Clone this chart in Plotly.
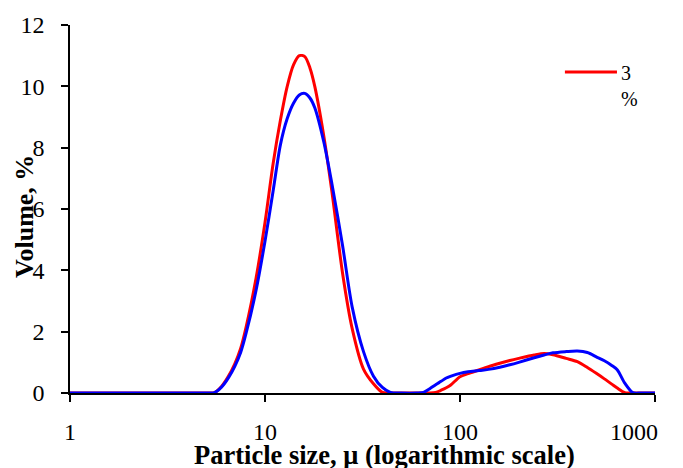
import plotly.graph_objects as go

# Particle size (micron) sample points
size_um = [1, 2, 3, 4, 5, 5.5, 6, 6.5, 7, 7.5, 8, 9, 10, 11, 12, 13, 14, 15, 16, 17, 18,
           20, 22, 25, 28, 32, 36, 40, 44, 50, 60, 65, 70, 75, 80, 85, 90, 100, 110, 125,
           140, 160, 180, 200, 240, 270, 300, 350, 400, 450, 500, 550, 600, 640, 700,
           770, 850, 1000]

# Volume % — red series ("3 %")
vol_red = [0, 0, 0, 0, 0, 0.01, 0.22, 0.55, 0.95, 1.45, 2.15, 3.75, 5.56, 7.47, 8.9, 10.0,
           10.7, 11.0, 10.97, 10.6, 10.0, 8.4, 6.6, 3.9, 2.1, 0.78, 0.3, 0.02, 0, 0, 0, 0,
           0, 0.02, 0.09, 0.17, 0.27, 0.53, 0.63, 0.75, 0.86, 0.97, 1.06, 1.13, 1.24, 1.29,
           1.25, 1.13, 1.02, 0.83, 0.64, 0.46, 0.29, 0.16, 0.01, 0, 0, 0]

# Volume % — blue series
vol_blue = [0, 0, 0, 0, 0, 0.01, 0.2, 0.5, 0.87, 1.32, 1.95, 3.35, 4.95, 6.58, 8.1, 8.95,
            9.45, 9.72, 9.77, 9.62, 9.3, 8.2, 6.85, 4.8, 2.8, 1.35, 0.55, 0.18, 0.02, 0, 0,
            0.02, 0.14, 0.27, 0.38, 0.49, 0.55, 0.64, 0.69, 0.73, 0.77, 0.84, 0.92, 1.0,
            1.15, 1.24, 1.31, 1.35, 1.37, 1.32, 1.18, 1.05, 0.9, 0.76, 0.32, 0.01, 0, 0]

x_ticks = [1, 10, 100, 1000]
NB = "\u00a0"
x_tick_text = ["1", "10", "100", "1000" + NB * 7]  # last label kept inside the page
y_ticks = [0, 2, 4, 6, 8, 10, 12]

red_name = "3<br>%"
x_title = "<b>Particle size, μ (logarithmic scale)</b>"
y_title = "<b>Volume, %</b>"

FONT = "Liberation Serif, Times New Roman, serif"

fig = go.Figure()
fig.add_trace(go.Scatter(x=size_um, y=vol_red, mode="lines", name="3 %",
                         line=dict(color="#FF0000", width=3, shape="spline", smoothing=0.8),
                         showlegend=False))
fig.add_trace(go.Scatter(x=size_um, y=vol_blue, mode="lines", name="",
                         line=dict(color="#0000FF", width=3, shape="spline", smoothing=0.8),
                         showlegend=False))

# page body has an 8px margin, so the figure is sized to fit the window
W, H = 675, 460
fig.update_layout(
    width=W, height=H,
    margin=dict(l=62, r=28, t=17, b=75, autoexpand=False),
    paper_bgcolor="white", plot_bgcolor="white",
    font=dict(family=FONT, color="black", size=24),
    showlegend=False,
    xaxis=dict(type="log", range=[0, 3], tickvals=x_ticks, ticktext=x_tick_text,
               showgrid=False, zeroline=False, showline=True, linecolor="black",
               linewidth=1.5, ticks="outside", ticklen=7, tickwidth=1.5, tickcolor="black",
               ticklabelstandoff=9, ticklabeloverflow="allow", tickfont=dict(size=24),
               automargin=False),
    yaxis=dict(range=[0, 12], tickvals=y_ticks, showgrid=False, zeroline=False,
               showline=True, linecolor="black", linewidth=1.5, ticks="outside",
               ticklen=7, tickwidth=1.5, tickcolor="black", ticklabelstandoff=12,
               tickfont=dict(size=24), automargin=False),
    shapes=[
        # legend sample line for the red series
        dict(type="line", xref="paper", yref="paper", x0=0.846, x1=0.935,
             y0=0.872, y1=0.872, line=dict(color="#FF0000", width=3)),
    ],
    annotations=[
        dict(text=red_name, xref="paper", yref="paper", x=0.939, y=0.905,
             xanchor="left", yanchor="top", align="left", showarrow=False,
             font=dict(family=FONT, size=20, color="black")),
        dict(text=x_title, xref="paper", yref="paper", x=0.5376, y=-0.169,
             xanchor="center", yanchor="middle", showarrow=False,
             font=dict(family=FONT, size=26.5, color="black")),
        dict(text=y_title, xref="paper", yref="paper", x=-0.077, y=0.481,
             xanchor="center", yanchor="middle", showarrow=False, textangle=-90,
             font=dict(family=FONT, size=26, color="black")),
    ],
)

fig.write_html("out.html")
